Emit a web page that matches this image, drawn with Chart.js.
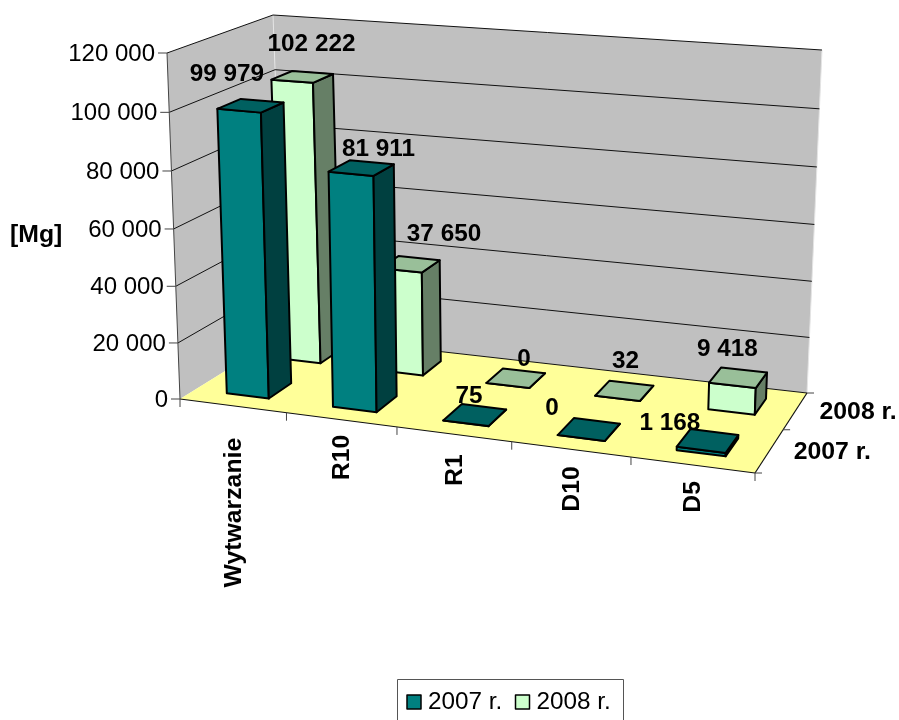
<!DOCTYPE html>
<html>
<head>
<meta charset="utf-8">
<script src="https://cdn.jsdelivr.net/npm/chart.js@4/dist/chart.umd.min.js"></script>
<style>
  html, body { margin: 0; padding: 0; background: #fff; overflow: hidden; }
  canvas { display: block; }
</style>
</head>
<body>
<canvas id="chart" width="899" height="720"></canvas>
<script>
// Chart values
const categories = ['Wytwarzanie', 'R10', 'R1', 'D10', 'D5'];
const seriesNames = ['2007 r.', '2008 r.'];
const values2007 = [99979, 81911, 75, 0, 1168];
const values2008 = [102222, 37650, 0, 32, 9418];

// Corners of the 3D box on screen: bottom and top, front-left, front-right, back-right, back-left
const box = {
  bottom: [[180, 399], [755, 473], [807, 393], [285, 334]],
  top: [[167, 53], [768, 102], [822, 50], [273, 15]]
};
const FONT = '"Liberation Sans", Arial, sans-serif';

// Face colours for each series
const faces = [
  { front: '#008080', top: '#006060', side: '#004040' },
  { front: '#CCFFCC', top: '#99BF99', side: '#667F66' }
];
// Depth range of each series row on the floor
const rows = [[0.13, 0.34], [0.64, 0.86]];
// Label nudges from the centre of a bar top
const labelOffsets = [
  [[-24, -31], [17, -19], [-6, -19], [-37, -21], [-38, -17]],
  [[9, -32], [34, -30], [8, -19], [1, -29], [-11, -28]]
];
const categoryLabelGaps = [32, 15, 20, 17, 16];

function persp(t, r) {
  return t / (t + r * (1 - t));
}

// u across categories, v up the value axis, w into the depth, all 0 to 1
function project(u, v, w) {
  const pu = persp(u, 1.10);
  const pw = persp(w, 0.85);
  const pv = persp(v, 1.035);
  const corner = (side, i) => {
    const c = box[side];
    const front = c[0][i] + (c[1][i] - c[0][i]) * pu;
    const back = c[3][i] + (c[2][i] - c[3][i]) * pu;
    return front + (back - front) * pw;
  };
  return [
    corner('bottom', 0) + (corner('top', 0) - corner('bottom', 0)) * pv,
    corner('bottom', 1) + (corner('top', 1) - corner('bottom', 1)) * pv
  ];
}

function fillPoly(ctx, pts, fill, stroke, width) {
  ctx.beginPath();
  pts.forEach((p, i) => i ? ctx.lineTo(p[0], p[1]) : ctx.moveTo(p[0], p[1]));
  ctx.closePath();
  if (fill) {
    ctx.fillStyle = fill;
    ctx.fill();
  }
  if (stroke) {
    ctx.strokeStyle = stroke;
    ctx.lineWidth = width;
    ctx.stroke();
  }
}

function line(ctx, a, b, color, width) {
  ctx.beginPath();
  ctx.moveTo(a[0], a[1]);
  ctx.lineTo(b[0], b[1]);
  ctx.strokeStyle = color;
  ctx.lineWidth = width;
  ctx.stroke();
}

function text(ctx, str, x, y, font, align, baseline) {
  ctx.font = font;
  ctx.fillStyle = '#000';
  ctx.textAlign = align;
  ctx.textBaseline = baseline;
  ctx.fillText(str, x, y);
}

function drawWalls(ctx, chart) {
  const yScale = chart.scales.y;
  fillPoly(ctx, [project(0, 0, 0), project(0, 1, 0), project(0, 1, 1), project(0, 0, 1)], '#C0C0C0');
  fillPoly(ctx, [project(0, 0, 1), project(0, 1, 1), project(1, 1, 1), project(1, 0, 1)], '#C0C0C0');
  line(ctx, project(0, 0, 1), project(0, 1, 1), '#E4E4E4', 1);
  line(ctx, project(1, 0, 1), project(1, 1, 1), '#E4E4E4', 1);

  yScale.ticks.forEach(tick => {
    const v = (chart.chartArea.bottom - yScale.getPixelForValue(tick.value)) / chart.chartArea.height;
    const a = project(0, v, 0);
    if (v > 0) {
      line(ctx, a, project(0, v, 1), '#111', 1);
      line(ctx, project(0, v, 1), project(1, v, 1), '#111', 1);
    }
    line(ctx, [a[0] - 9, a[1]], a, '#444', 1);
    text(ctx, tick.label, a[0] - 12, a[1] + 1.5, '24px ' + FONT, 'right', 'middle');
  });
  line(ctx, project(0, 0, 0), project(0, 1, 0), '#444', 1);
}

function drawFloor(ctx, chart) {
  const n = categories.length;
  fillPoly(ctx, [project(0, 0, 0), project(1, 0, 0), project(1, 0, 1), project(0, 0, 1)], '#FFFF99');
  line(ctx, project(0, 0, 1), project(1, 0, 1), '#111', 1);
  line(ctx, project(0, 0, 0), project(1, 0, 0), '#111', 1.2);
  line(ctx, project(1, 0, 0), project(1, 0, 1), '#111', 1.2);

  for (let i = 0; i <= n; i++) {
    const p = project(i / n, 0, 0);
    line(ctx, p, [p[0], p[1] + 8], '#444', 1);
  }
  [0, 0.5, 1].forEach(w => {
    const p = project(1, 0, w);
    line(ctx, p, [p[0] + 7, p[1]], '#444', 1);
  });

  // Category labels, rotated to read upwards
  categories.forEach((name, i) => {
    const p = project((i + 0.5) / n, 0, 0);
    ctx.save();
    ctx.translate(p[0] + 8, p[1] + categoryLabelGaps[i]);
    ctx.rotate(-Math.PI / 2);
    text(ctx, name, 0, 0, 'bold 24.8px ' + FONT, 'right', 'alphabetic');
    ctx.restore();
  });

  // Series labels at the right side of the floor
  seriesNames.forEach((name, s) => {
    const p = project(1, 0, (s + 0.5) / 2);
    text(ctx, name, p[0] + 24, p[1] + 2, 'bold 24.8px ' + FONT, 'left', 'middle');
  });
}

function drawBar(ctx, chart, el, s) {
  const area = chart.chartArea;
  const u0 = (el.x - el.width / 2 - area.left) / area.width;
  const u1 = (el.x + el.width / 2 - area.left) / area.width;
  const v = (area.bottom - el.y) / area.height;
  const w0 = rows[s][0];
  const w1 = rows[s][1];
  const col = faces[s];
  const lw = 2;
  ctx.lineJoin = 'round';
  fillPoly(ctx, [project(u0, 0, w0), project(u1, 0, w0), project(u1, v, w0), project(u0, v, w0)], col.front, '#000', lw);
  fillPoly(ctx, [project(u1, 0, w0), project(u1, 0, w1), project(u1, v, w1), project(u1, v, w0)], col.side, '#000', lw);
  fillPoly(ctx, [project(u0, v, w0), project(u1, v, w0), project(u1, v, w1), project(u0, v, w1)], col.top, '#000', lw);
}

function drawDataLabels(ctx, chart) {
  const area = chart.chartArea;
  [0, 1].forEach(s => {
    const w = (rows[s][0] + rows[s][1]) / 2;
    chart.getDatasetMeta(s).data.forEach((el, i) => {
      const u = (el.x - area.left) / area.width;
      const v = (area.bottom - el.y) / area.height;
      const p = project(u, v, w);
      const off = labelOffsets[s][i];
      const str = formatNumber(chart.data.datasets[s].data[i]);
      text(ctx, str, p[0] + off[0], p[1] + off[1], 'bold 24.3px ' + FONT, 'center', 'middle');
    });
  });
}

function drawLegend(ctx, chart) {
  ctx.beginPath();
  ctx.moveTo(397.5, 725);
  ctx.lineTo(397.5, 679.5);
  ctx.lineTo(623.5, 679.5);
  ctx.lineTo(623.5, 725);
  ctx.strokeStyle = '#555';
  ctx.lineWidth = 1;
  ctx.stroke();
  let x = 407;
  chart.data.datasets.forEach(ds => {
    fillPoly(ctx, [[x, 695], [x + 14, 695], [x + 14, 709], [x, 709]], ds.backgroundColor, '#000', 1.5);
    text(ctx, ds.label, x + 21, 702, '24.3px ' + FONT, 'left', 'middle');
    x += 108.5;
  });
}

function formatNumber(value) {
  return String(value).replace(/\B(?=(\d{3})+$)/g, ' ');
}

// Draws the bars as 3D boxes from the positions Chart.js worked out
const bars3d = {
  id: 'bars3d',
  beforeDatasetsDraw(chart) {
    const ctx = chart.ctx;
    ctx.save();
    drawWalls(ctx, chart);
    drawFloor(ctx, chart);
    [1, 0].forEach(s => {
      chart.getDatasetMeta(s).data.forEach(el => drawBar(ctx, chart, el, s));
    });
    drawDataLabels(ctx, chart);
    drawLegend(ctx, chart);
    ctx.restore();
    return false;
  }
};

new Chart(document.getElementById('chart'), {
  type: 'bar',
  data: {
    labels: categories,
    datasets: [
      { label: seriesNames[0], data: values2007, backgroundColor: faces[0].front, grouped: false, barPercentage: 0.4, categoryPercentage: 1 },
      { label: seriesNames[1], data: values2008, backgroundColor: faces[1].front, grouped: false, barPercentage: 0.4, categoryPercentage: 1 }
    ]
  },
  options: {
    responsive: false,
    animation: false,
    devicePixelRatio: 1,
    plugins: { legend: { display: false }, tooltip: { enabled: false } },
    scales: {
      x: { display: false },
      y: { display: false, min: 0, max: 120000, ticks: { stepSize: 20000, callback: formatNumber } }
    }
  },
  plugins: [bars3d]
});

// "[Mg]" axis title
const titleCtx = document.getElementById('chart').getContext('2d');
text(titleCtx, '[Mg]', 10, 235, 'bold 24.8px ' + FONT, 'left', 'middle');
</script>
</body>
</html>
